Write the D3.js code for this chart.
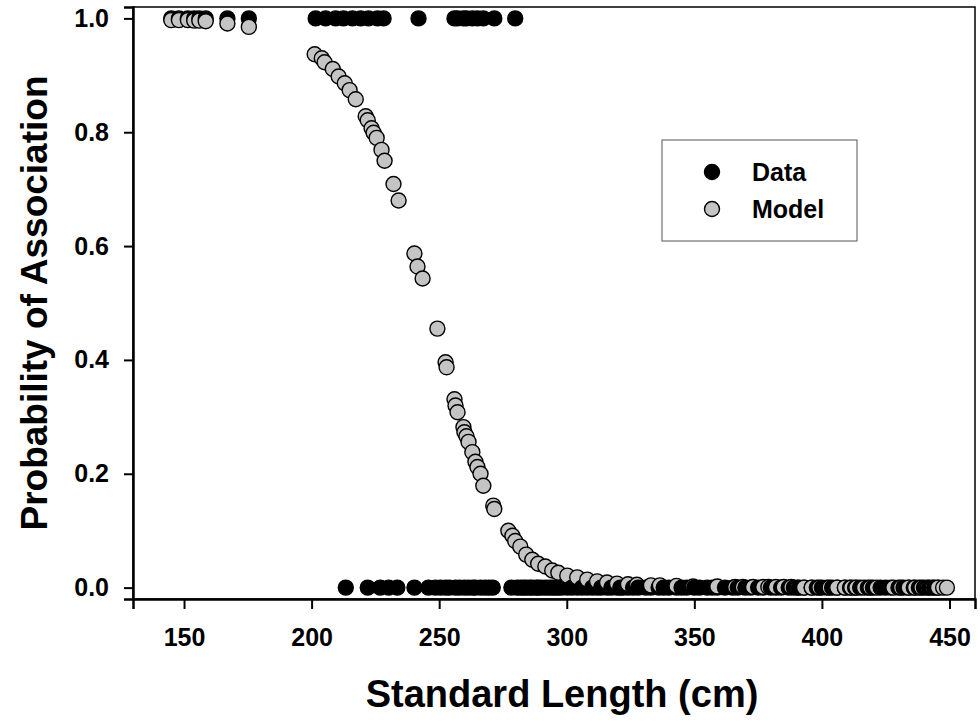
<!DOCTYPE html>
<html>
<head>
<meta charset="utf-8">
<script src="https://cdn.jsdelivr.net/npm/d3@7.9.0/dist/d3.min.js"></script>
<style>
  body { margin: 0; background: #fff; }
  svg { display: block; font-family: "Liberation Sans", Arial, sans-serif; font-weight: bold; }
</style>
</head>
<body>
<svg id="chart" width="980" height="721"></svg>
<script>
// observed fish: standard length (cm) and whether associated (1) or not (0)
const dataLength = [
  145, 148, 151.5, 154, 156, 158.5, 167, 175.4,
  201.6, 205.5, 209.4, 212.5, 216, 219.2, 222.3, 225.8, 228.2, 241.9,
  256.0, 257.2, 259.5, 260.7, 263.0, 265.0, 267.3, 271.6, 279.8,
  213.4, 222.0, 226.9, 230.2, 233.6, 240.3, 245.8,
  248.5, 250.5, 252.5, 254, 256.4, 258, 259.9, 261.5, 263.2, 264.2, 266.2, 268, 269.5, 271.0,
  278.3, 280.5, 281.8, 283, 284.1, 285.5, 286.5, 288, 288.8, 290, 291.6, 293, 294.3, 295.5,
  296.7, 298, 300.2, 302, 304.1, 306, 308, 310, 311.9, 313.5, 315.8, 317.5, 319.7, 321,
  322, 324, 326, 328, 331, 333, 336, 338, 340, 343, 345, 347, 350, 352, 355, 357, 359,
  362, 365, 367, 370, 372, 375, 377, 380, 382, 384, 387, 389, 391, 393, 396, 398, 400,
  402, 404, 406, 409, 411, 413, 415, 418, 420, 423, 425, 427, 430, 432, 434, 436, 438,
  440, 442, 444, 445.5
];
const dataObs = [
  1, 1, 1, 1, 1, 1, 1, 1,
  1, 1, 1, 1, 1, 1, 1, 1, 1, 1,
  1, 1, 1, 1, 1, 1, 1, 1, 1,
  0, 0, 0, 0, 0, 0, 0,
  0, 0, 0, 0, 0, 0, 0, 0, 0, 0, 0, 0, 0, 0,
  0, 0, 0, 0, 0, 0, 0, 0, 0, 0, 0, 0, 0, 0,
  0, 0, 0, 0, 0, 0, 0, 0, 0, 0, 0, 0, 0, 0,
  0, 0, 0, 0, 0, 0, 0, 0, 0, 0, 0, 0, 0, 0, 0, 0, 0,
  0, 0, 0, 0, 0, 0, 0, 0, 0, 0, 0, 0, 0, 0, 0, 0, 0,
  0, 0, 0, 0, 0, 0, 0, 0, 0, 0, 0, 0, 0, 0, 0, 0, 0,
  0, 0, 0, 0
];

// fitted logistic model, read at the plotted lengths
const modelLength = [
  145, 148, 151.5, 154, 156, 158.5, 167, 175.4,
  201.2, 204.0, 205.1, 208.3, 210.6, 213.0, 214.9, 217.3, 221.2, 222.0, 223.5, 224.3,
  225.5, 227.4, 228.6, 232.1, 234.1, 240.3, 241.5, 243.5,
  249.3, 252.5, 252.9, 256.0, 256.4, 257.2, 259.5, 259.9, 260.7, 261.5, 263.0, 264.2,
  265.0, 266.2, 267.3, 271.2, 271.6, 277.1, 278.7, 279.8, 281.8, 284.1, 286.5, 288.8,
  291.6, 294.3, 296.7, 300.2, 304.1, 308.0, 311.9, 315.8, 319.7,
  324, 327.5, 333, 336.5, 343, 349.5, 359, 366, 369, 373, 377, 379, 382, 385, 388,
  390.5, 393, 396, 399, 403, 406, 409, 411.5, 413.5, 416.5, 419, 421.5, 428, 431, 434,
  436.5, 439, 441.5, 443.5, 445.5, 447.5, 449
];
const modelProb = [
  0.997, 0.997, 0.997, 0.996, 0.996, 0.995, 0.991, 0.985,
  0.937, 0.930, 0.923, 0.911, 0.898, 0.886, 0.874, 0.858, 0.828, 0.821, 0.807, 0.799,
  0.790, 0.769, 0.750, 0.709, 0.680, 0.587, 0.564, 0.543,
  0.455, 0.396, 0.387, 0.331, 0.320, 0.308, 0.282, 0.273, 0.266, 0.256, 0.238, 0.221,
  0.212, 0.200, 0.179, 0.144, 0.138, 0.100, 0.091, 0.082, 0.072, 0.058, 0.049, 0.042,
  0.037, 0.030, 0.026, 0.021, 0.018, 0.014, 0.011, 0.009, 0.007,
  0.006, 0.005, 0.004, 0.004, 0.003, 0.002, 0.002, 0.001, 0.001, 0.001, 0.001, 0.001, 0.001, 0.001, 0.001,
  0.000, 0.000, 0.000, 0.000, 0.000, 0.000, 0.000, 0.000, 0.000, 0.000, 0.000, 0.000, 0.000, 0.000, 0.000,
  0.000, 0.000, 0.000, 0.000, 0.000, 0.000, 0.000
];

const xTicks = [150, 200, 250, 300, 350, 400, 450];
const yTicks = [0.0, 0.2, 0.4, 0.6, 0.8, 1.0];
const seriesNames = ['Data', 'Model'];
const seriesFill = ['#000000', '#c4c4c4'];

const plotLeft = 133, plotRight = 975, plotTop = 7, plotBottom = 599;
const svg = d3.select('#chart');

const x = d3.scaleLinear().domain([130, 460]).range([plotLeft, plotRight]);
const y = d3.scaleLinear().domain([-0.02, 1.02]).range([plotBottom, plotTop]);

// frame
svg.append('rect')
  .attr('x', plotLeft).attr('y', plotTop)
  .attr('width', plotRight - plotLeft).attr('height', plotBottom - plotTop)
  .attr('fill', 'none').attr('stroke', '#000').attr('stroke-width', 1.5);

// merge both series, drawn in order of length (data before model on ties)
let marks = [];
dataLength.forEach((d, i) => marks.push({ len: d, p: dataObs[i], s: 0 }));
modelLength.forEach((d, i) => marks.push({ len: d, p: modelProb[i], s: 1 }));
marks.sort((a, b) => a.len - b.len || a.s - b.s);

svg.append('g')
  .selectAll('circle')
  .data(marks)
  .join('circle')
  .attr('cx', d => x(d.len))
  .attr('cy', d => y(d.p))
  .attr('r', 7.5)
  .attr('fill', d => seriesFill[d.s])
  .attr('stroke', '#000')
  .attr('stroke-width', 1.4);

// axes
let xAxis = svg.append('g')
  .attr('transform', `translate(0,${plotBottom})`)
  .call(d3.axisBottom(x).tickValues(xTicks).tickSize(10).tickPadding(19).tickFormat(d3.format('d')));
let yAxis = svg.append('g')
  .attr('transform', `translate(${plotLeft},0)`)
  .call(d3.axisLeft(y).tickValues(yTicks).tickSize(9).tickPadding(15).tickFormat(d3.format('.1f')));

[xAxis, yAxis].forEach(ax => {
  ax.select('.domain').attr('stroke-width', 2.5);
  ax.selectAll('.tick line').attr('stroke-width', 2);
  ax.selectAll('text').attr('font-size', 25).attr('font-weight', 'bold').attr('fill', '#000')
    .attr('font-family', '"Liberation Sans", Arial, sans-serif');
});

svg.append('text')
  .attr('x', 562)
  .attr('y', 707)
  .attr('text-anchor', 'middle')
  .attr('font-size', 38)
  .text('Standard Length (cm)');

svg.append('text')
  .attr('transform', `translate(47,${(plotTop + plotBottom) / 2}) rotate(-90)`)
  .attr('text-anchor', 'middle')
  .attr('font-size', 37)
  .text('Probability of Association');

// legend
let legend = svg.append('g');
legend.append('rect')
  .attr('x', 662).attr('y', 140).attr('width', 195).attr('height', 101)
  .attr('fill', '#fff').attr('stroke', '#555').attr('stroke-width', 1);
seriesNames.forEach((name, i) => {
  legend.append('circle')
    .attr('cx', 712).attr('cy', 172 + i * 37).attr('r', 7.5)
    .attr('fill', seriesFill[i]).attr('stroke', '#000').attr('stroke-width', 1.4);
  legend.append('text')
    .attr('x', 752).attr('y', 181 + i * 37)
    .attr('font-size', 25)
    .text(name);
});
</script>
</body>
</html>
